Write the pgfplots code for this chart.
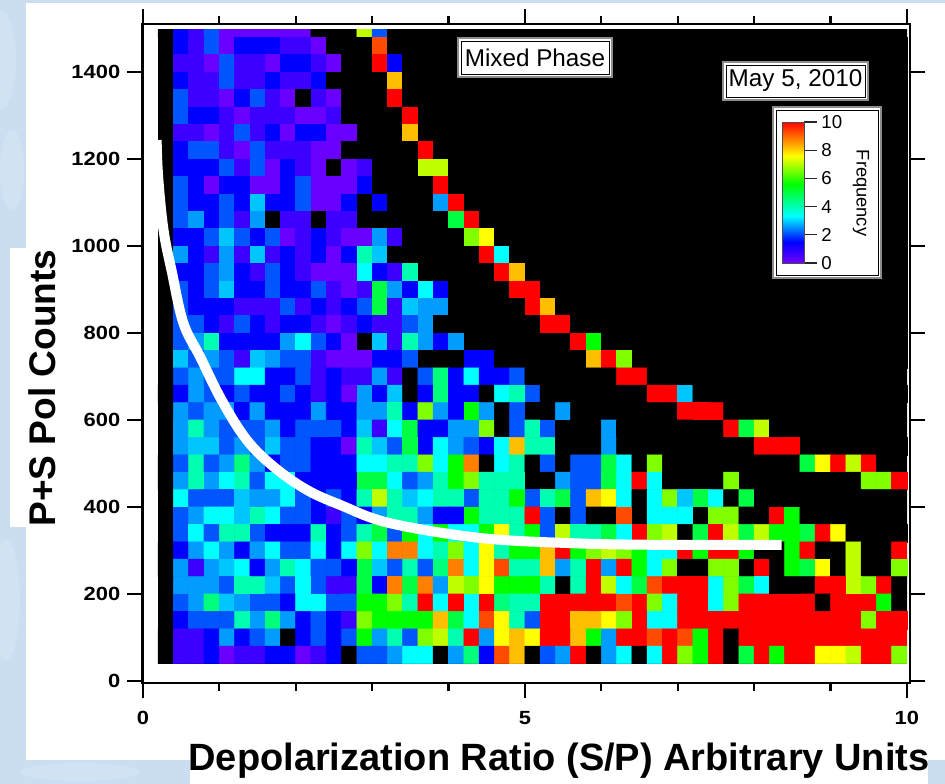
\documentclass[border=0pt]{standalone}
\usepackage{fontspec}
\setmainfont{Liberation Sans}
\usepackage{pgfplots}
\pgfplotsset{compat=1.18}
\definecolor{bgblue}{HTML}{CADDF1}
% -1 is an empty (black) bin, 0 to 10 is the frequency scale
\pgfplotsset{colormap={freq}{rgb255(0)=(0,0,0) rgb255(9)=(0,0,0) rgb255(10)=(112,0,255)
  rgb255(25)=(0,0,255) rgb255(43)=(0,255,255) rgb255(66)=(0,255,0)
  rgb255(86)=(255,255,0) rgb255(110)=(255,0,0)}}
\begin{document}
\begin{tikzpicture}[x=0.75pt,y=-0.75pt]
\useasboundingbox (0,0) rectangle (945,784);
\fill[bgblue] (0,0) rectangle (945,784);
\fill[white,opacity=.15] (0,60) ellipse (16 and 50);
\fill[white,opacity=.15] (12,170) ellipse (12 and 40);
\fill[white,opacity=.15] (6,600) ellipse (14 and 60);
\fill[white,opacity=.15] (80,772) ellipse (60 and 9);
\fill[white] (26,3) rectangle (945,760);
\fill[white] (10,248) rectangle (26,527);
\fill[white] (190,745) rectangle (928,784);
\begin{axis}[
  at={(106.875pt,-512.25pt)}, anchor=south west, scale only axis,
  width=575.6pt, height=494.25pt,
  xmin=-0.005, xmax=10.04, ymin=-4.6, ymax=1510.4,
  xtick={0,5,10}, minor xtick={1,2,3,4,6,7,8,9},
  ytick={0,200,...,1400},
  tick align=outside, major tick length=11.5pt, minor tick length=6pt,
  xticklabel pos=bottom, yticklabel pos=left,
  every tick/.style={black, line width=1.6pt},
  axis line style={line width=1.6pt},
  axis on top,
  colormap name=freq, point meta min=-1, point meta max=10,
  /pgf/number format/assume math mode=true,
  /pgf/number format/1000 sep={},
  ticklabel style={font=\fontsize{14.3}{15}\selectfont\bfseries, xscale=1.15},
  x tick label style={yshift=-6pt},
  y tick label style={xshift=-1pt},
]
\fill[black] (axis cs:0.2,40) rectangle (axis cs:10,1500);
\addplot[matrix plot*, mesh/cols=49, point meta=\thisrowno{0}] table[header=false, row sep=\\,
  x expr={0.3+0.2*mod(\coordindex,49)}, y expr={1500-40*round(\coordindex/49-0.49)}] {
-1\\1.5\\0.7\\2.1\\0.1\\0.1\\0.1\\0.1\\0.1\\0.1\\-1\\-1\\-1\\7.1\\2.1\\ -1\\-1\\-1\\-1\\-1\\-1\\-1\\-1\\-1\\-1\\ -1\\-1\\-1\\-1\\-1\\-1\\-1\\-1\\-1\\-1\\ -1\\-1\\-1\\-1\\-1\\-1\\-1\\-1\\-1\\-1\\ -1\\-1\\-1\\-1\\
-1\\1.5\\0.7\\2.1\\0.1\\1.5\\1.5\\1.5\\0.7\\0.7\\0.1\\-1\\-1\\-1\\9.3\\ -1\\-1\\-1\\-1\\-1\\-1\\-1\\-1\\-1\\-1\\ -1\\-1\\-1\\-1\\-1\\-1\\-1\\-1\\-1\\-1\\ -1\\-1\\-1\\-1\\-1\\-1\\-1\\-1\\-1\\-1\\ -1\\-1\\-1\\-1\\
-1\\0.7\\0.7\\0.1\\2.1\\0.7\\0.7\\0.1\\1.5\\1.5\\0.7\\0.1\\-1\\-1\\10\\1.5\\ -1\\-1\\-1\\-1\\-1\\-1\\-1\\-1\\-1\\-1\\ -1\\-1\\-1\\-1\\-1\\-1\\-1\\-1\\-1\\-1\\ -1\\-1\\-1\\-1\\-1\\-1\\-1\\-1\\-1\\-1\\ -1\\-1\\-1\\
-1\\1.5\\0.7\\0.7\\2.1\\0.7\\0.7\\1.5\\0.7\\0.7\\1.5\\-1\\-1\\-1\\-1\\8.2\\ -1\\-1\\-1\\-1\\-1\\-1\\-1\\-1\\-1\\-1\\ -1\\-1\\-1\\-1\\-1\\-1\\-1\\-1\\-1\\-1\\ -1\\-1\\-1\\-1\\-1\\-1\\-1\\-1\\-1\\-1\\ -1\\-1\\-1\\
-1\\2.1\\0.7\\0.7\\0.1\\1.5\\2.1\\0.7\\0.1\\-1\\0.7\\0.1\\-1\\-1\\-1\\10\\ -1\\-1\\-1\\-1\\-1\\-1\\-1\\-1\\-1\\-1\\ -1\\-1\\-1\\-1\\-1\\-1\\-1\\-1\\-1\\-1\\ -1\\-1\\-1\\-1\\-1\\-1\\-1\\-1\\-1\\-1\\ -1\\-1\\-1\\
-1\\2.1\\1.5\\1.5\\0.7\\0.1\\0.7\\0.7\\0.7\\0.1\\0.1\\0.7\\-1\\-1\\-1\\-1\\10\\ -1\\-1\\-1\\-1\\-1\\-1\\-1\\-1\\-1\\-1\\ -1\\-1\\-1\\-1\\-1\\-1\\-1\\-1\\-1\\-1\\ -1\\-1\\-1\\-1\\-1\\-1\\-1\\-1\\-1\\-1\\ -1\\-1\\
-1\\0.7\\0.7\\0.1\\0.7\\2.1\\0.7\\1.5\\0.1\\1.5\\1.5\\0.1\\0.1\\-1\\-1\\-1\\8.2\\ -1\\-1\\-1\\-1\\-1\\-1\\-1\\-1\\-1\\-1\\ -1\\-1\\-1\\-1\\-1\\-1\\-1\\-1\\-1\\-1\\ -1\\-1\\-1\\-1\\-1\\-1\\-1\\-1\\-1\\-1\\ -1\\-1\\
-1\\1.5\\2.1\\2.1\\0.7\\0.1\\2.1\\0.7\\0.7\\0.7\\0.1\\0.1\\-1\\-1\\-1\\-1\\-1\\10\\ -1\\-1\\-1\\-1\\-1\\-1\\-1\\-1\\-1\\-1\\ -1\\-1\\-1\\-1\\-1\\-1\\-1\\-1\\-1\\-1\\ -1\\-1\\-1\\-1\\-1\\-1\\-1\\-1\\-1\\-1\\ -1\\
-1\\1.5\\1.5\\1.5\\2.1\\0.7\\2.1\\0.1\\1.5\\0.7\\0.1\\-1\\0.1\\0.7\\-1\\-1\\-1\\7.1\\7.1\\ -1\\-1\\-1\\-1\\-1\\-1\\-1\\-1\\-1\\-1\\ -1\\-1\\-1\\-1\\-1\\-1\\-1\\-1\\-1\\-1\\ -1\\-1\\-1\\-1\\-1\\-1\\-1\\-1\\-1\\-1\\
-1\\2.1\\1.5\\0.1\\1.5\\1.5\\0.1\\0.1\\1.5\\2.1\\0.1\\0.1\\0.1\\1.5\\-1\\-1\\-1\\-1\\10\\ -1\\-1\\-1\\-1\\-1\\-1\\-1\\-1\\-1\\-1\\ -1\\-1\\-1\\-1\\-1\\-1\\-1\\-1\\-1\\-1\\ -1\\-1\\-1\\-1\\-1\\-1\\-1\\-1\\-1\\-1\\
-1\\2.1\\1.5\\1.5\\2.1\\1.5\\2.9\\1.5\\1.5\\2.1\\0.1\\0.1\\1.5\\-1\\1.5\\-1\\-1\\-1\\2.6\\10\\ -1\\-1\\-1\\-1\\-1\\-1\\-1\\-1\\-1\\ -1\\-1\\-1\\-1\\-1\\-1\\-1\\-1\\-1\\-1\\ -1\\-1\\-1\\-1\\-1\\-1\\-1\\-1\\-1\\-1\\
-1\\2.1\\2.6\\1.5\\2.1\\0.7\\2.6\\-1\\0.7\\0.7\\-1\\0.7\\0.7\\-1\\-1\\-1\\-1\\-1\\-1\\5\\10\\ -1\\-1\\-1\\-1\\-1\\-1\\-1\\-1\\ -1\\-1\\-1\\-1\\-1\\-1\\-1\\-1\\-1\\-1\\ -1\\-1\\-1\\-1\\-1\\-1\\-1\\-1\\-1\\-1\\
-1\\1.5\\1.5\\2.1\\2.9\\2.1\\1.5\\2.1\\0.1\\0.7\\1.5\\0.7\\0.1\\0.1\\2.6\\0.7\\-1\\-1\\-1\\-1\\6.6\\7.6\\ -1\\-1\\-1\\-1\\-1\\-1\\-1\\ -1\\-1\\-1\\-1\\-1\\-1\\-1\\-1\\-1\\-1\\ -1\\-1\\-1\\-1\\-1\\-1\\-1\\-1\\-1\\-1\\
-1\\2.6\\1.5\\0.7\\2.6\\0.7\\2.9\\0.7\\1.5\\0.7\\1.5\\0.1\\1.5\\4\\2.9\\-1\\-1\\-1\\-1\\-1\\-1\\10\\3.3\\ -1\\-1\\-1\\-1\\-1\\-1\\ -1\\-1\\-1\\-1\\-1\\-1\\-1\\-1\\-1\\-1\\ -1\\-1\\-1\\-1\\-1\\-1\\-1\\-1\\-1\\-1\\
-1\\1.5\\1.5\\2.1\\2.6\\1.5\\0.7\\2.1\\1.5\\0.7\\0.1\\0.1\\0.1\\3.3\\1.5\\0.7\\4\\-1\\-1\\-1\\-1\\-1\\10\\8.2\\ -1\\-1\\-1\\-1\\-1\\ -1\\-1\\-1\\-1\\-1\\-1\\-1\\-1\\-1\\-1\\ -1\\-1\\-1\\-1\\-1\\-1\\-1\\-1\\-1\\-1\\
-1\\2.1\\1.5\\2.1\\2.9\\1.5\\1.5\\2.1\\1.5\\1.5\\2.1\\0.7\\0.1\\0.7\\5\\2.6\\1.5\\3.3\\1.5\\-1\\-1\\-1\\-1\\10\\10\\ -1\\-1\\-1\\-1\\ -1\\-1\\-1\\-1\\-1\\-1\\-1\\-1\\-1\\-1\\ -1\\-1\\-1\\-1\\-1\\-1\\-1\\-1\\-1\\-1\\
-1\\2.1\\1.5\\1.5\\1.5\\0.7\\0.7\\0.7\\2.1\\0.7\\1.5\\0.7\\1.5\\2.1\\5\\0.7\\2.9\\2.6\\2.6\\-1\\-1\\-1\\-1\\-1\\10\\8.2\\ -1\\-1\\-1\\ -1\\-1\\-1\\-1\\-1\\-1\\-1\\-1\\-1\\-1\\ -1\\-1\\-1\\-1\\-1\\-1\\-1\\-1\\-1\\-1\\
-1\\2.1\\2.1\\1.5\\0.7\\2.1\\1.5\\0.7\\1.5\\1.5\\0.7\\0.1\\0.7\\1.5\\0.7\\0.7\\2.1\\2.6\\-1\\-1\\-1\\-1\\-1\\-1\\-1\\10\\10\\ -1\\-1\\ -1\\-1\\-1\\-1\\-1\\-1\\-1\\-1\\-1\\-1\\ -1\\-1\\-1\\-1\\-1\\-1\\-1\\-1\\-1\\-1\\
-1\\2.1\\2.6\\4\\1.5\\1.5\\1.5\\1.5\\2.6\\3.3\\2.1\\1.5\\0.1\\-1\\2.9\\0.7\\4\\2.6\\1.5\\2.6\\-1\\-1\\-1\\-1\\-1\\-1\\-1\\10\\5.6\\ -1\\-1\\-1\\-1\\-1\\-1\\-1\\-1\\-1\\-1\\ -1\\-1\\-1\\-1\\-1\\-1\\-1\\-1\\-1\\-1\\
-1\\2.9\\2.1\\2.6\\2.1\\0.7\\2.9\\2.6\\2.1\\2.1\\0.7\\0.1\\0.1\\0.1\\1.5\\1.5\\2.1\\-1\\-1\\-1\\1.5\\1.5\\-1\\-1\\-1\\-1\\-1\\-1\\8.2\\10\\6.6\\ -1\\-1\\-1\\-1\\-1\\-1\\-1\\-1\\ -1\\-1\\-1\\-1\\-1\\-1\\-1\\-1\\-1\\-1\\
-1\\2.1\\2.6\\2.1\\2.1\\3.3\\3.3\\1.5\\1.5\\2.1\\0.7\\1.5\\0.7\\0.7\\2.6\\0.7\\-1\\2.1\\4.5\\1.5\\3.3\\1.5\\1.5\\2.1\\-1\\-1\\-1\\-1\\-1\\-1\\10\\10\\ -1\\-1\\-1\\-1\\-1\\-1\\-1\\ -1\\-1\\-1\\-1\\-1\\-1\\-1\\-1\\-1\\-1\\
-1\\1.5\\2.6\\2.1\\1.5\\2.1\\1.5\\1.5\\2.1\\1.5\\0.7\\1.5\\0.1\\2.6\\1.5\\2.9\\-1\\1.5\\4.5\\1.5\\1.5\\-1\\3.3\\4\\2.1\\-1\\-1\\-1\\-1\\-1\\-1\\-1\\10\\10\\2.9\\ -1\\-1\\-1\\-1\\ -1\\-1\\-1\\-1\\-1\\-1\\-1\\-1\\-1\\-1\\
-1\\2.6\\2.1\\2.6\\2.6\\1.5\\2.6\\1.5\\1.5\\1.5\\2.6\\1.5\\1.5\\2.6\\2.6\\4\\1.5\\6.6\\2.6\\1.5\\5.6\\2.6\\-1\\2.1\\-1\\-1\\2.6\\-1\\-1\\-1\\-1\\-1\\-1\\-1\\10\\10\\10\\ -1\\-1\\ -1\\-1\\-1\\-1\\-1\\-1\\-1\\-1\\-1\\-1\\
-1\\2.6\\4\\2.6\\2.1\\2.1\\2.1\\2.6\\1.5\\2.1\\2.1\\2.1\\1.5\\2.9\\0.7\\3.3\\5\\1.5\\1.5\\2.6\\2.6\\6.6\\-1\\2.1\\4\\2.1\\-1\\-1\\-1\\2.6\\-1\\-1\\-1\\-1\\-1\\-1\\-1\\10\\5\\7.1\\ -1\\-1\\-1\\-1\\-1\\-1\\-1\\-1\\-1\\
-1\\2.6\\2.9\\2.9\\2.1\\2.6\\2.1\\2.9\\2.1\\2.1\\1.5\\1.5\\0.1\\4\\2.9\\2.1\\5\\1.5\\3.3\\2.6\\2.1\\1.5\\3.3\\8.2\\4\\4\\-1\\-1\\-1\\2.6\\-1\\-1\\-1\\-1\\-1\\-1\\-1\\-1\\-1\\10\\10\\10\\ -1\\-1\\-1\\-1\\-1\\-1\\-1\\
-1\\2.1\\4\\2.1\\2.6\\4.5\\2.6\\1.5\\2.1\\2.1\\1.5\\1.5\\1.5\\3.3\\3.3\\4\\4\\6.6\\3.3\\5.6\\8.8\\-1\\3.3\\4\\-1\\2.1\\-1\\2.1\\2.1\\5\\3.3\\-1\\6.6\\-1\\-1\\-1\\-1\\-1\\-1\\-1\\-1\\-1\\5\\7.6\\10\\7.1\\10\\-1\\-1\\
-1\\2.6\\4\\2.6\\3.3\\4\\2.1\\3.3\\3.3\\1.5\\1.5\\1.5\\1.5\\5\\5\\3.3\\2.1\\2.6\\4\\5.6\\6.6\\4\\4\\4\\-1\\-1\\2.6\\2.1\\2.1\\5\\3.3\\10\\3.3\\-1\\-1\\-1\\-1\\6.6\\-1\\-1\\-1\\-1\\-1\\-1\\-1\\-1\\6.6\\6.6\\10\\
-1\\3.3\\2.1\\2.1\\2.1\\2.9\\2.6\\2.6\\3.3\\2.1\\1.5\\2.1\\1.5\\4\\7.1\\4\\2.9\\3.3\\4\\4\\2.1\\4\\4\\5.6\\2.1\\4\\5\\2.1\\8.2\\7.6\\3.3\\-1\\3.3\\6.6\\2.9\\5\\3.3\\-1\\5\\-1\\-1\\-1\\-1\\-1\\-1\\-1\\-1\\-1\\-1\\
-1\\2.1\\2.6\\3.3\\3.3\\2.9\\4\\3.3\\2.1\\2.1\\1.5\\0.7\\2.1\\1.5\\2.6\\4\\4\\2.6\\1.5\\1.5\\5.6\\4\\4\\4\\10\\2.1\\-1\\2.1\\-1\\-1\\9.3\\-1\\3.3\\3.3\\3.3\\-1\\6.6\\6.6\\-1\\-1\\10\\5.6\\-1\\-1\\-1\\-1\\-1\\-1\\-1\\
-1\\2.1\\3.3\\2.1\\4\\4\\2.1\\1.5\\1.5\\1.5\\4\\1.5\\2.1\\4\\5\\2.1\\5.6\\3.3\\5.6\\3.3\\3.3\\5.6\\7.6\\4\\5.6\\2.1\\7.1\\4\\4\\5\\3.3\\10\\6.6\\7.1\\-1\\5\\10\\7.1\\5\\7.1\\5.6\\5.6\\5\\10\\7.6\\-1\\-1\\-1\\-1\\
-1\\1.5\\2.6\\3.3\\2.6\\1.5\\2.6\\3.3\\2.1\\2.1\\3.3\\1.5\\3.3\\6.6\\3.3\\8.8\\8.8\\3.3\\4\\6.6\\3.3\\7.6\\4\\5.6\\5.6\\8.2\\10\\5.6\\6.6\\7.1\\6.6\\5.6\\3.3\\3.3\\10\\5.6\\10\\10\\5.6\\-1\\-1\\5.6\\10\\-1\\-1\\7.1\\-1\\-1\\10\\
-1\\2.6\\0.7\\2.6\\2.9\\3.3\\1.5\\2.6\\4\\3.3\\2.1\\2.1\\1.5\\5\\2.9\\2.1\\4\\2.1\\4.5\\8.8\\3.3\\7.6\\9.3\\4\\4\\8.2\\2.6\\4\\10\\2.6\\10\\5.6\\3.3\\6.6\\-1\\-1\\6.6\\6.6\\-1\\10\\-1\\5.6\\5\\7.6\\-1\\7.1\\-1\\-1\\6.6\\
-1\\2.6\\2.6\\2.6\\2.1\\4\\4\\2.9\\2.1\\3.3\\2.1\\0.7\\0.7\\5\\1.5\\8.8\\5\\8.8\\2.6\\7.1\\6.6\\7.6\\5.6\\5.6\\5.6\\4\\-1\\4\\10\\7.1\\3.3\\5\\9.3\\10\\10\\10\\3.3\\6.6\\5\\3.3\\-1\\-1\\-1\\10\\10\\7.1\\6.6\\10\\-1\\
-1\\2.1\\2.6\\4.5\\2.9\\2.6\\2.1\\2.1\\1.5\\3.3\\3.3\\2.1\\2.1\\5.6\\5.6\\6.6\\4\\10\\3.3\\10\\3.3\\10\\4.5\\4\\4\\10\\10\\10\\10\\10\\9.3\\10\\6.6\\3.3\\10\\10\\3.3\\6.6\\10\\10\\10\\10\\10\\-1\\10\\10\\10\\5.6\\-1\\
-1\\1.5\\2.1\\2.1\\2.1\\4\\2.6\\4.5\\2.6\\1.5\\2.1\\1.5\\0.7\\6.6\\5.6\\5.6\\5.6\\5.6\\8.2\\5\\3.3\\9.3\\7.6\\4\\2.1\\10\\10\\8.2\\8.2\\7.6\\6.6\\10\\3.3\\3.3\\10\\10\\10\\10\\10\\10\\10\\10\\10\\10\\10\\10\\6.6\\10\\10\\
-1\\0.7\\0.7\\1.5\\2.6\\1.5\\2.1\\2.6\\-1\\1.5\\2.1\\1.5\\2.1\\5.6\\2.6\\4\\2.1\\6.6\\7.1\\4\\10\\2.6\\7.6\\8.2\\7.6\\10\\10\\8.2\\5.6\\2.6\\10\\10\\9.3\\10\\9.3\\5.6\\10\\-1\\10\\10\\10\\10\\10\\10\\10\\10\\10\\10\\10\\
-1\\0.7\\0.7\\1.5\\0.1\\0.7\\0.7\\1.5\\1.5\\0.1\\0.7\\1.5\\-1\\2.1\\2.1\\2.6\\3.3\\3.3\\-1\\2.6\\4.5\\1.5\\9.3\\8.2\\-1\\2.1\\2.6\\10\\-1\\2.6\\3.3\\-1\\3.3\\10\\6.6\\5.6\\10\\-1\\5\\10\\5.6\\10\\10\\7.6\\7.6\\7.1\\10\\10\\6.6\\
};
\fill[white] (axis cs:-1,1500) rectangle (axis cs:11,1530);
\addplot[white, line width=7.5pt, smooth, tension=0.6] coordinates {
  (0.18,1244)(0.20,1159)(0.27,1037)(0.38,940)(0.53,823)(0.75,745)(1.03,646)(1.36,554)
  (1.73,490)(2.15,439)(2.58,405)(3.23,363)(4.41,329)(5.59,317)(6.77,313)(8.36,313)};
\end{axis}
% text boxes on the black area
\fill[white, draw=black!45, line width=1pt] (458,38) rectangle (612,77);
\draw[black, line width=.6pt] (461,41) rectangle (609,74);
\node[font=\fontsize{18.2}{20}\selectfont] at (535,57.5) {Mixed Phase};
\fill[white, draw=black!45, line width=1pt] (723,62) rectangle (868,100);
\draw[black, line width=.6pt] (726,65) rectangle (865,97);
\node[font=\fontsize{18.2}{20}\selectfont] at (795.5,81) {May 5, 2010};
\fill[white, draw=black!45, line width=1pt] (773,107) rectangle (881,278);
\draw[black, line width=.6pt] (776,110) rectangle (878,275);
\begin{axis}[
  at={(586.5pt,-197.25pt)}, anchor=south west, scale only axis,
  width=16.5pt, height=105.75pt,
  xmin=0, xmax=1, ymin=0, ymax=10,
  xtick=\empty, ytick={0,2,...,10},
  yticklabel pos=right, ytick pos=right,
  tick align=outside, major tick length=9.5pt,
  every tick/.style={black!85, line width=1pt},
  axis line style={black!70, line width=.6pt},
  axis on top,
  colormap name=freq, point meta min=-1, point meta max=10,
  /pgf/number format/assume math mode=true,
  ticklabel style={font=\fontsize{14}{15}\selectfont},
]
\addplot[surf, shader=interp, mesh/cols=2, point meta=\thisrow{f}] table {
x y f
0 0 0
1 0 0
0 1.5 1.5
1 1.5 1.5
0 3.3 3.3
1 3.3 3.3
0 5.6 5.6
1 5.6 5.6
0 7.6 7.6
1 7.6 7.6
0 10 10
1 10 10
};
\end{axis}
\node[rotate=-90, font=\fontsize{13.7}{15}\selectfont] at (861,193) {Frequency};
% axis titles
\node[rotate=90, inner sep=0pt, font=\fontsize{27.8}{30}\selectfont\bfseries] at (42,388) {P+S Pol Counts};
\node[inner sep=0pt, font=\fontsize{28.5}{30}\selectfont\bfseries] at (559,761) {Depolarization Ratio (S/P) Arbitrary Units};
\end{tikzpicture}
\end{document}
